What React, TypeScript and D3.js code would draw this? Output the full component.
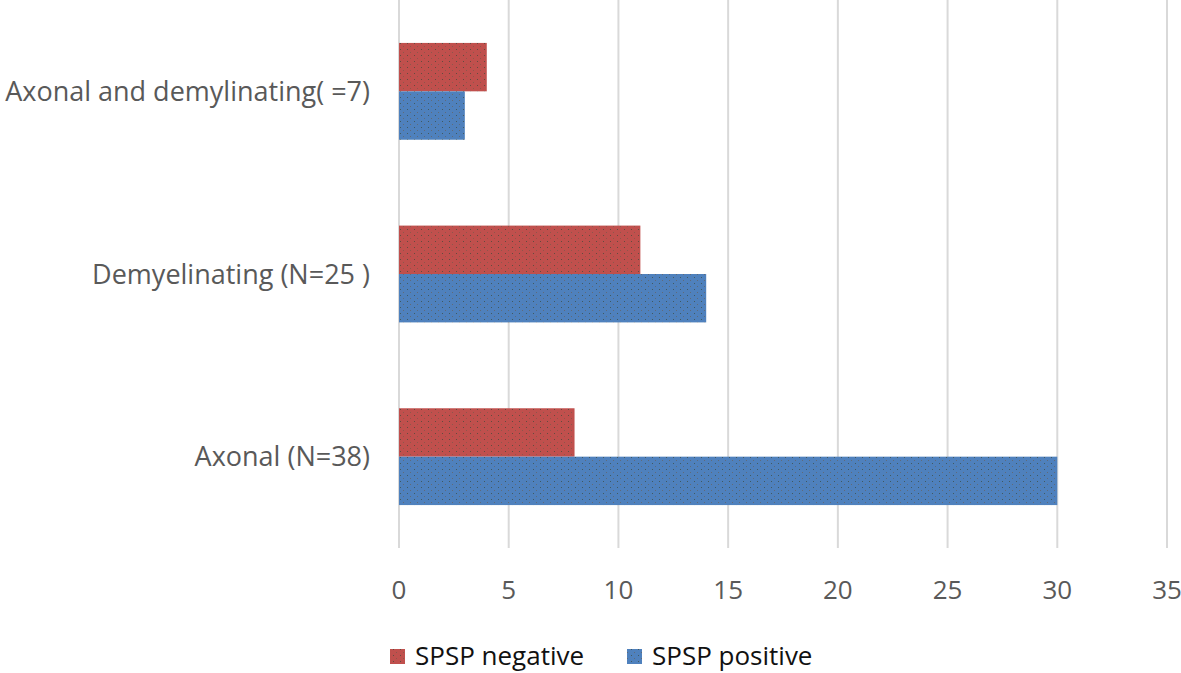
import React from 'react';
import * as d3 from 'd3';

const categories = ['Axonal and demylinating( =7)', 'Demyelinating (N=25 )', 'Axonal (N=38)'];
const seriesNames = ['SPSP negative', 'SPSP positive'];
const negativeValues = [4, 11, 8];
const positiveValues = [3, 14, 30];
const xTicks = [0, 5, 10, 15, 20, 25, 30, 35];

const colors = ['#c0504d', '#4f81bd'];

const width = 1181;
const height = 673;
const margin = { top: 0, right: 14, bottom: 125, left: 399 };

const App: React.FC = () => {
    const xScale = d3.scaleLinear()
        .domain([0, 35])
        .range([margin.left, width - margin.right]);

    const yScale = d3.scaleBand<string>()
        .domain(categories)
        .range([margin.top, height - margin.bottom])
        .paddingInner(0.47)
        .paddingOuter(0.235);

    const inner = d3.scaleBand<string>()
        .domain(seriesNames)
        .range([0, yScale.bandwidth()]);

    const values = [negativeValues, positiveValues];
    const font = '"Open Sans", Lato, sans-serif';

    return (
        <svg width={width} height={height} style={{ position: 'absolute', left: 0, top: 0, background: '#fff' }}>
            <defs>
                {colors.map((c, i) => (
                    <pattern key={c} id={`dots-${i}`} width={7} height={6} patternUnits="userSpaceOnUse">
                        <rect width={7} height={6} fill={c} />
                        <rect x={1} y={1} width={1} height={1} fill="#3a4a3a" opacity={0.7} />
                        <rect x={4} y={4} width={1} height={1} fill="#6b5a4a" opacity={0.6} />
                    </pattern>
                ))}
            </defs>

            {/* gridlines */}
            {xTicks.map(t => (
                <line key={t} x1={xScale(t)} x2={xScale(t)} y1={0} y2={height - margin.bottom}
                      stroke="#d9d9d9" strokeWidth={2} />
            ))}

            {/* bars */}
            {categories.map((cat, ci) => (
                <g key={cat}>
                    {seriesNames.map((s, si) => (
                        <rect key={s}
                              x={xScale(0)}
                              y={(yScale(cat) ?? 0) + (inner(s) ?? 0)}
                              width={xScale(values[si][ci]) - xScale(0)}
                              height={inner.bandwidth()}
                              fill={`url(#dots-${si})`} />
                    ))}
                </g>
            ))}

            {/* category labels */}
            {categories.map(cat => (
                <text key={cat} x={370} y={(yScale(cat) ?? 0) + yScale.bandwidth() / 2}
                      dy="0.36em" textAnchor="end" fontFamily={font} fontSize={27} fill="#595959">
                    {cat}
                </text>
            ))}

            {/* x tick labels */}
            {xTicks.map(t => (
                <text key={t} x={xScale(t)} y={599} textAnchor="middle"
                      fontFamily={font} fontSize={26} fill="#595959">
                    {t}
                </text>
            ))}

            {/* legend */}
            {seriesNames.map((s, i) => {
                const lx = i === 0 ? 390 : 627;
                return (
                    <g key={s}>
                        <rect x={lx} y={649} width={15} height={15} fill={`url(#dots-${i})`} />
                        <text x={lx + 25} y={665} fontFamily={font} fontSize={26} fill="#111">{s}</text>
                    </g>
                );
            })}
        </svg>
    );
};

export default App;
